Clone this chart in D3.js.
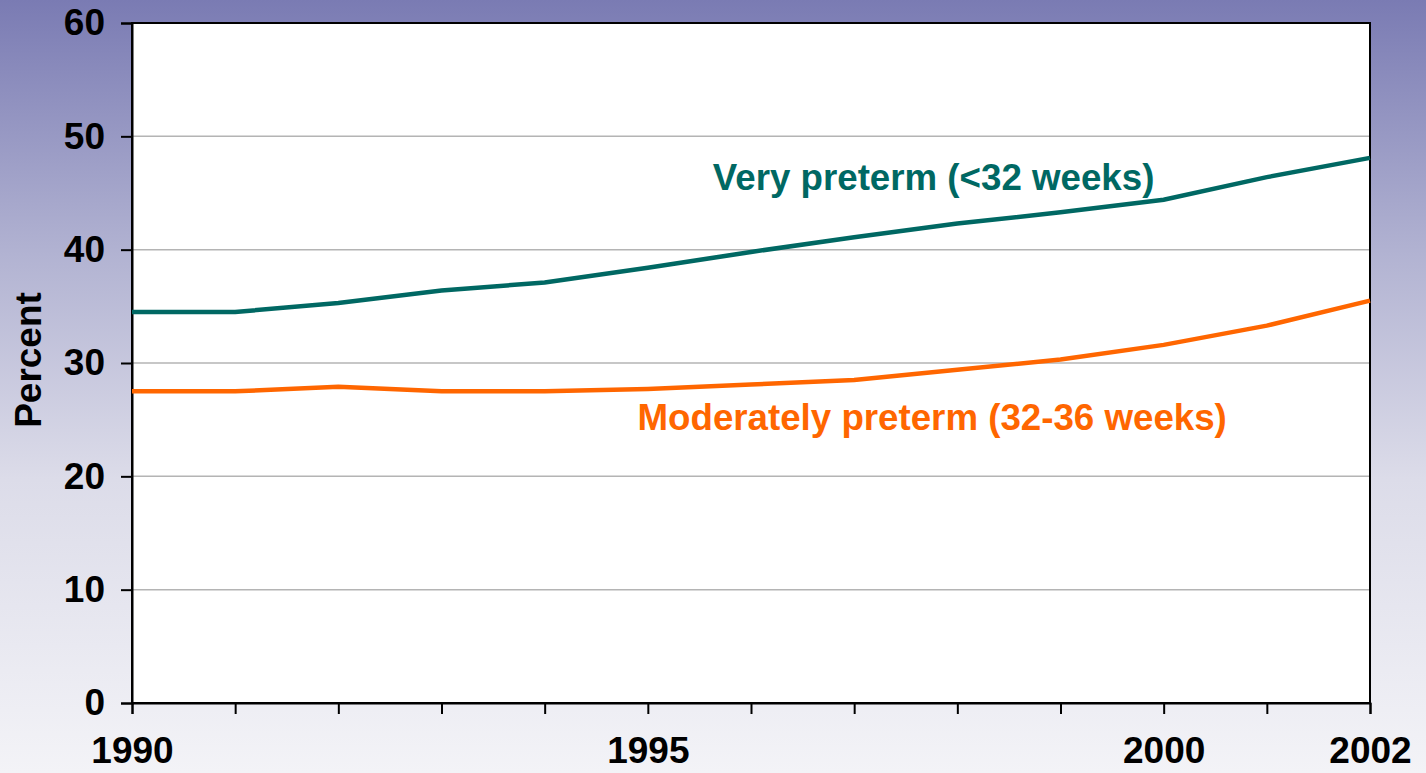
<!DOCTYPE html>
<html>
<head>
<meta charset="utf-8">
<script src="https://cdn.jsdelivr.net/npm/d3@7"></script>
<style>
  html, body { margin: 0; padding: 0; }
  svg { display: block; font-family: "Liberation Sans", Arial, sans-serif; font-weight: bold; }
</style>
</head>
<body>
<svg id="chart" width="1426" height="773"></svg>
<script>
var years = [1990, 1991, 1992, 1993, 1994, 1995, 1996, 1997, 1998, 1999, 2000, 2001, 2002];
var veryPreterm = [34.5, 34.5, 35.3, 36.4, 37.1, 38.4, 39.8, 41.1, 42.3, 43.3, 44.4, 46.4, 48.1];
var moderatelyPreterm = [27.5, 27.5, 27.9, 27.5, 27.5, 27.7, 28.1, 28.5, 29.4, 30.3, 31.6, 33.3, 35.5];
var yTicks = [0, 10, 20, 30, 40, 50, 60];
var xLabels = [1990, 1995, 2000, 2002];

var width = 1426, height = 773;
var margin = { top: 23, right: 56, bottom: 70, left: 132 };
var innerW = width - margin.left - margin.right;
var innerH = height - margin.top - margin.bottom;

var svg = d3.select("#chart");

// background gradient
var defs = svg.append("defs");
var grad = defs.append("linearGradient")
  .attr("id", "bg")
  .attr("x1", 0).attr("y1", 0).attr("x2", 0).attr("y2", 1);
grad.append("stop").attr("offset", "0%").attr("stop-color", "#7a7bb3");
grad.append("stop").attr("offset", "33%").attr("stop-color", "#b2b3d2");
grad.append("stop").attr("offset", "62%").attr("stop-color", "#dcdce9");
grad.append("stop").attr("offset", "100%").attr("stop-color", "#f3f3f7");
svg.append("rect").attr("width", width).attr("height", height).attr("fill", "url(#bg)");

var g = svg.append("g").attr("transform", "translate(" + margin.left + "," + margin.top + ")");

var x = d3.scaleLinear().domain([1990, 2002]).range([0, innerW]);
var y = d3.scaleLinear().domain([0, 60]).range([innerH, 0]);

g.append("rect")
  .attr("width", innerW)
  .attr("height", innerH)
  .attr("fill", "#fff");

// gridlines
g.append("g")
  .selectAll("line")
  .data(yTicks.filter(function(d) { return d > 0 && d < 60; }))
  .enter()
  .append("line")
  .attr("x1", 0)
  .attr("x2", innerW)
  .attr("y1", function(d) { return y(d); })
  .attr("y2", function(d) { return y(d); })
  .attr("stroke", "#b4b4b4")
  .attr("stroke-width", 1.5);

// frame
g.append("rect")
  .attr("width", innerW)
  .attr("height", innerH)
  .attr("fill", "none")
  .attr("stroke", "#000")
  .attr("stroke-width", 2);

var styleTicks = function(axis) {
  axis.select(".domain").attr("stroke", "#000").attr("stroke-width", 2);
  axis.selectAll(".tick line").attr("stroke", "#000").attr("stroke-width", 2);
  axis.selectAll(".tick text")
    .attr("fill", "#000")
    .style("font-size", "37px")
    .style("font-weight", "bold")
    .style("font-family", "Liberation Sans, Arial, sans-serif");
};

// y axis
var yAxis = g.append("g")
  .call(d3.axisLeft(y).tickValues(yTicks).tickSize(11).tickPadding(16));
styleTicks(yAxis);

// x axis
var xAxis = g.append("g")
  .attr("transform", "translate(0," + innerH + ")")
  .call(d3.axisBottom(x).tickValues(years).tickSize(11).tickFormat(function(d) {
    return xLabels.indexOf(d) > -1 ? d : "";
  }).tickPadding(23));
styleTicks(xAxis);

// lines
var line = d3.line()
  .x(function(d, i) { return x(years[i]); })
  .y(function(d) { return y(d); });

g.append("path")
  .datum(moderatelyPreterm)
  .attr("fill", "none")
  .attr("stroke", "#ff6600")
  .attr("stroke-width", 4.5)
  .attr("d", line);

g.append("path")
  .datum(veryPreterm)
  .attr("fill", "none")
  .attr("stroke", "#006863")
  .attr("stroke-width", 4.5)
  .attr("d", line);

// series labels
g.append("text")
  .attr("x", x(1995.63))
  .attr("y", y(45.3))
  .attr("fill", "#006863")
  .style("font-size", "36.7px")
  .text("Very preterm (<32 weeks)");

g.append("text")
  .attr("x", x(1994.9))
  .attr("y", y(24.1))
  .attr("fill", "#ff6600")
  .style("font-size", "36.7px")
  .text("Moderately preterm (32-36 weeks)");

// y axis title
svg.append("text")
  .attr("transform", "translate(41,360) rotate(-90)")
  .attr("text-anchor", "middle")
  .attr("fill", "#000")
  .style("font-size", "37px")
  .text("Percent");
</script>
</body>
</html>
